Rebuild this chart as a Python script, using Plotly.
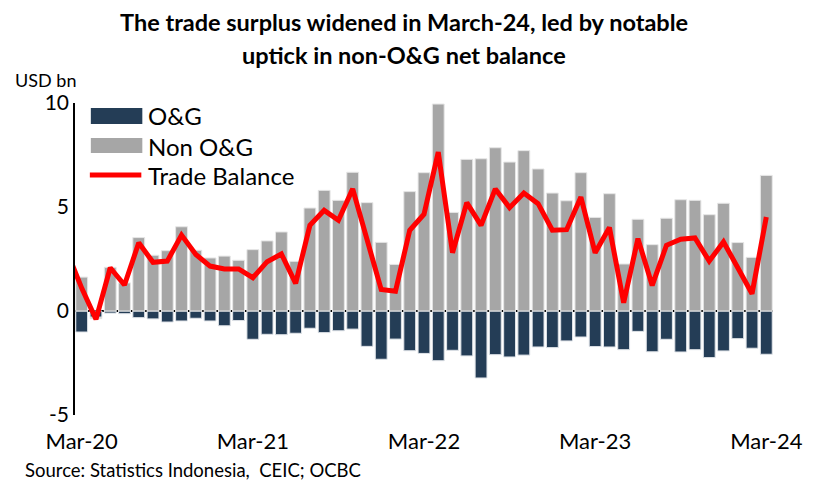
import pandas as pd
import plotly.graph_objects as go

# Months: Feb-20 (only used by the line, clipped at the axis edge) to Mar-24
months = pd.date_range("2020-02-01", periods=50, freq="MS").strftime("%b-%y").tolist()
bar_months = months[1:]

og = [-1.01, -0.30, -0.10, -0.13, -0.32, -0.38, -0.53, -0.48, -0.35, -0.48,
      -0.71, -0.46, -1.36, -1.12, -1.14, -1.07, -0.83, -1.04, -0.95, -0.87,
      -1.70, -2.32, -1.35, -1.91, -2.04, -2.39, -1.89, -2.16, -3.22, -2.10,
      -2.21, -2.12, -1.73, -1.76, -1.44, -1.25, -1.71, -1.73, -1.86, -0.98,
      -1.96, -1.36, -1.97, -1.86, -2.24, -1.92, -1.33, -1.79, -2.08]

non_og = [1.63, -0.07, 2.10, 1.35, 3.53, 2.68, 2.90, 4.05, 2.92, 2.55,
          2.64, 2.44, 2.95, 3.37, 3.80, 2.39, 4.95, 5.80, 5.32, 6.67,
          5.21, 3.30, 2.24, 5.74, 6.65, 9.95, 4.74, 7.29, 7.32, 7.85,
          7.16, 7.71, 6.83, 5.67, 5.30, 6.65, 4.50, 5.64, 2.26, 4.41,
          3.19, 4.46, 5.35, 5.32, 4.63, 5.18, 3.29, 2.58, 6.52]

trade_balance = [2.80,
                 1.10, -0.40, 2.08, 1.25, 3.28, 2.34, 2.40, 3.65, 2.72, 2.16,
                 2.02, 2.02, 1.60, 2.37, 2.74, 1.33, 4.12, 4.84, 4.36, 5.87,
                 3.48, 1.03, 0.95, 3.88, 4.65, 7.64, 2.80, 5.21, 4.12, 5.87,
                 4.97, 5.67, 5.16, 3.88, 3.91, 5.48, 2.80, 4.01, 0.40, 3.48,
                 1.23, 3.16, 3.45, 3.51, 2.40, 3.32, 2.08, 0.83, 4.52]

tick_labels = ["Mar-20", "Mar-21", "Mar-22", "Mar-23", "Mar-24"]
y_ticks = [-5, 0, 5, 10]

series_names = ["O&G", "Non O&G", "Trade Balance"]
series_colors = ["#243D56", "#A6A6A6", "#FF0000"]

FONT = "Lato"
W, H = 815, 482
ML, MR, MT, MB = 75, 35, 103, 67
PW, PH = W - ML - MR, H - MT - MB


def px(xp):
    return (xp - ML) / PW


def py(yp):
    return 1 - (yp - MT) / PH


fig = go.Figure()
fig.add_trace(go.Bar(
    x=bar_months, y=og, name=series_names[0],
    marker=dict(color=series_colors[0], line=dict(color="#dfe3e8", width=1)),
))
fig.add_trace(go.Bar(
    x=bar_months, y=non_og, name=series_names[1],
    marker=dict(color=series_colors[1], line=dict(color="#e6e6e6", width=1)),
))
fig.add_trace(go.Scatter(
    x=months, y=trade_balance, name=series_names[2], mode="lines",
    line=dict(color=series_colors[2], width=5), cliponaxis=True,
))

fig.update_layout(
    width=W, height=H,
    margin=dict(l=ML, r=MR, t=MT, b=MB),
    paper_bgcolor="white", plot_bgcolor="white",
    barmode="relative", bargap=0.17,
    font=dict(family=FONT, size=18, color="black"),
    showlegend=False,
    xaxis=dict(
        type="category", categoryorder="array", categoryarray=months,
        range=[0.53, 49.47],
        tickmode="array", tickvals=tick_labels, ticktext=tick_labels,
        showline=False, showgrid=False, zeroline=False, ticks="",
        tickfont=dict(family=FONT, size=22), ticklabelstandoff=11,
    ),
    yaxis=dict(
        range=[-5, 10], tickvals=y_ticks, ticktext=[str(v) for v in y_ticks],
        showline=True, linecolor="black", linewidth=1.5,
        showgrid=False, zeroline=True, zerolinecolor="black", zerolinewidth=2,
        ticks="", tickfont=dict(family=FONT, size=21),
    ),
)

# Legend drawn as swatches + labels (matches the wide Excel-style keys)
fig.add_shape(type="rect", xref="paper", yref="paper",
              x0=px(91), x1=px(143), y0=py(108), y1=py(124),
              fillcolor=series_colors[0], line=dict(width=0))
fig.add_shape(type="rect", xref="paper", yref="paper",
              x0=px(91), x1=px(143), y0=py(138), y1=py(153),
              fillcolor=series_colors[1], line=dict(width=0))
fig.add_shape(type="line", xref="paper", yref="paper",
              x0=px(90), x1=px(142), y0=py(175), y1=py(175),
              line=dict(color=series_colors[2], width=5))
for name, ypx in zip(series_names, [116, 146, 175]):
    fig.add_annotation(
        text=name, xref="paper", yref="paper", x=px(147), y=py(ypx),
        xanchor="left", yanchor="middle", showarrow=False,
        font=dict(family=FONT, size=24, color="black"),
    )

fig.add_annotation(
    text="<b>The trade surplus widened in March-24, led by notable</b>",
    xref="paper", yref="paper", x=px(407), y=py(22),
    xanchor="center", yanchor="middle", showarrow=False,
    font=dict(family=FONT, size=23.5, color="black"),
)
fig.add_annotation(
    text="<b>uptick in non-O&G net balance</b>",
    xref="paper", yref="paper", x=px(407), y=py(55),
    xanchor="center", yanchor="middle", showarrow=False,
    font=dict(family=FONT, size=23.5, color="black"),
)
fig.add_annotation(
    text="USD bn", xref="paper", yref="paper", x=px(12), y=py(80),
    xanchor="left", yanchor="middle", showarrow=False,
    font=dict(family=FONT, size=18, color="black"),
)
fig.add_annotation(
    text="Source: Statistics Indonesia,  CEIC; OCBC",
    xref="paper", yref="paper", x=px(22), y=py(470),
    xanchor="left", yanchor="middle", showarrow=False,
    font=dict(family=FONT, size=18.5, color="black"),
)

fig.write_html(
    "out.html",
    config={"displayModeBar": False},
    post_script="document.body.style.margin='0';document.body.style.overflow='hidden';",
)
